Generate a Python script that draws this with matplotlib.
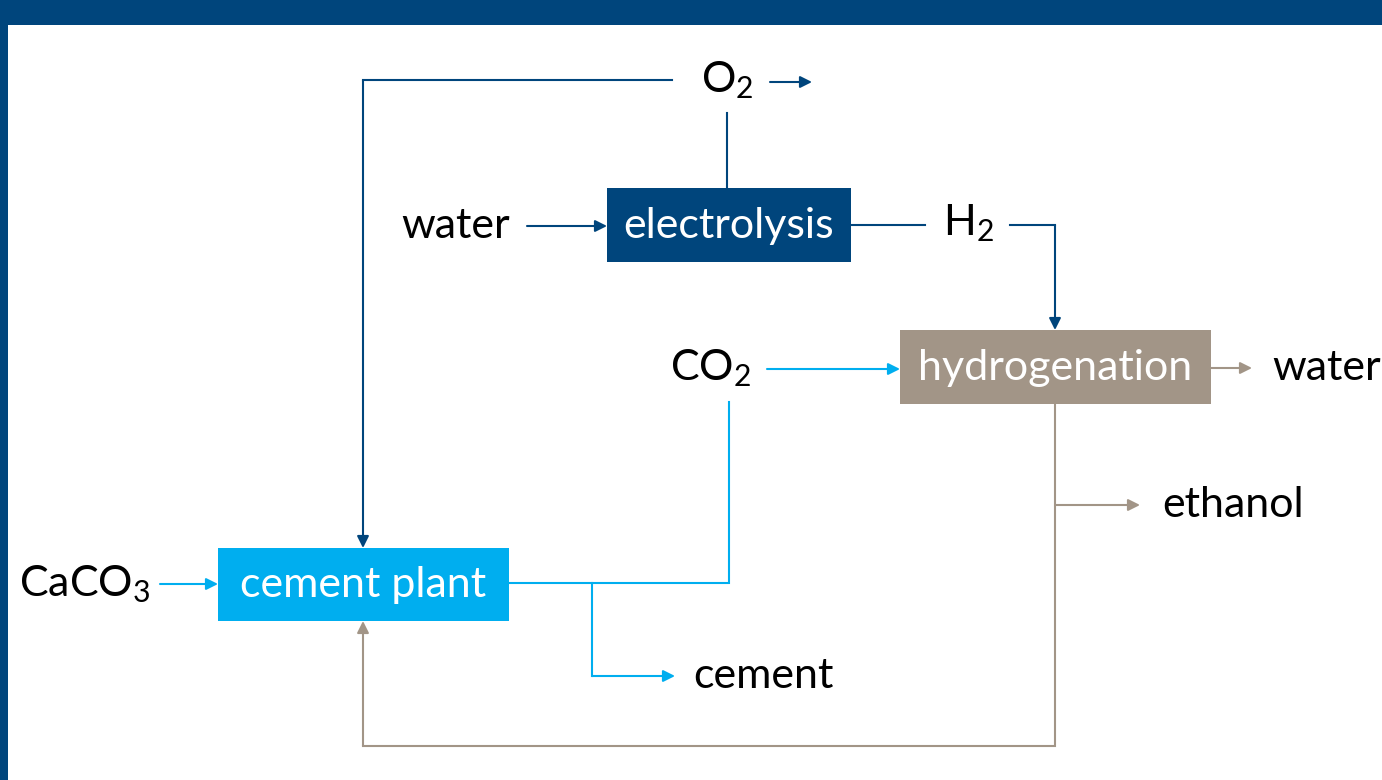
import matplotlib
matplotlib.use("Agg")
import matplotlib.pyplot as plt
from matplotlib.patches import Rectangle, FancyArrowPatch

plt.rcParams['font.family'] = ['Lato', 'DejaVu Sans']
plt.rcParams['mathtext.fontset'] = 'custom'
plt.rcParams['mathtext.rm'] = 'Lato'
plt.rcParams['mathtext.it'] = 'Lato'

DARK = '#00457c'
CYAN = '#00aeef'
GREY = '#a29587'

# process boxes: name, (x0, y0, x1, y1) in pixel space, colour
boxes = ["electrolysis", "hydrogenation", "cement plant"]
box_xy = [(607, 188, 851, 262), (900, 330, 1211, 404), (218, 548, 509, 621)]
box_col = [DARK, GREY, CYAN]

# stream labels: text, position, alignment
labels = [r"O$_\mathregular{2}$", "water", r"H$_\mathregular{2}$", r"CO$_\mathregular{2}$",
          "water", "ethanol", r"CaCO$_\mathregular{3}$", "cement"]
label_xy = [(727, 80), (456, 226), (968, 223), (711, 368),
            (1272, 368), (1162, 505), (85, 584), (693, 676)]
label_ha = ["center", "center", "center", "center", "left", "left", "center", "left"]

# polylines (last segment gets an arrow head when flag is True)
paths = [
    ([(672, 80), (363, 80), (363, 548)], DARK, True),
    ([(770, 82), (812, 82)], DARK, True),
    ([(727, 113), (727, 188)], DARK, False),
    ([(527, 226), (607, 226)], DARK, True),
    ([(851, 225), (925, 225)], DARK, False),
    ([(1010, 225), (1055, 225), (1055, 330)], DARK, True),
    ([(767, 369), (900, 369)], CYAN, True),
    ([(1211, 368), (1252, 368)], GREY, True),
    ([(1055, 404), (1055, 746), (363, 746), (363, 621)], GREY, True),
    ([(1055, 505), (1140, 505)], GREY, True),
    ([(160, 584), (218, 584)], CYAN, True),
    ([(509, 583), (729, 583), (729, 402)], CYAN, False),
    ([(592, 583), (592, 676), (675, 676)], CYAN, True),
]

fig = plt.figure(figsize=(13.82, 7.80), dpi=100)
ax = fig.add_axes([0, 0, 1, 1])
ax.set_xlim(0, 1382)
ax.set_ylim(780, 0)
ax.axis('off')

# frame
ax.add_patch(Rectangle((0, 0), 1382, 25, color=DARK, lw=0))
ax.add_patch(Rectangle((0, 0), 8, 780, color=DARK, lw=0))

for pts, col, arrow in paths:
    xs = [p[0] for p in pts]
    ys = [p[1] for p in pts]
    if arrow:
        ax.plot(xs[:-1], ys[:-1], color=col, lw=1.5, solid_joinstyle='miter')
        ax.add_patch(FancyArrowPatch(pts[-2], pts[-1], arrowstyle='-|>,head_length=7,head_width=3.5',
                                     color=col, lw=1.5, mutation_scale=1, shrinkA=0, shrinkB=0))
    else:
        ax.plot(xs, ys, color=col, lw=1.5, solid_joinstyle='miter')

for name, (x0, y0, x1, y1), col in zip(boxes, box_xy, box_col):
    ax.add_patch(Rectangle((x0, y0), x1 - x0, y1 - y0, color=col, lw=0, zorder=3))
    ax.text((x0 + x1) / 2, (y0 + y1) / 2 + 1, name, color='white', fontsize=31,
            ha='center', va='center', zorder=4)

for t, (x, y), ha in zip(labels, label_xy, label_ha):
    ax.text(x, y, t, color='black', fontsize=31, ha=ha, va='center')

fig.savefig('out.png', dpi=100)
